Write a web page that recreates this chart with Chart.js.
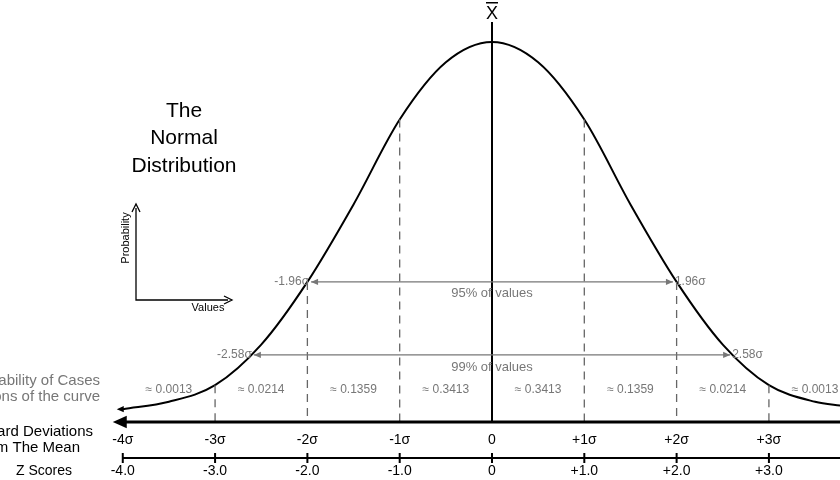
<!DOCTYPE html>
<html>
<head>
<meta charset="utf-8">
<script src="https://cdn.jsdelivr.net/npm/chart.js@4"></script>
<style>body{margin:0;background:#fff}</style>
</head>
<body>
<canvas id="c" width="840" height="480"></canvas>
<script>
// curve (height relative to peak)
const curveZ = [-4, -3.5, -3, -2.5, -2, -1.5, -1, -0.5, 0, 0.5, 1, 1.5, 2, 2.5, 3, 3.5, 3.8];
const curveY = [0.005, 0.025, 0.07, 0.18, 0.35, 0.56, 0.79, 0.945, 1, 0.945, 0.79, 0.56, 0.35, 0.18, 0.07, 0.025, 0.014];
const dashZ = [-3, -2, -1, 1, 2, 3];
const dashTop = [0.07, 0.35, 0.79, 0.79, 0.35, 0.07];
const sigmaTicks = [-4, -3, -2, -1, 0, 1, 2, 3];
const sigmaLabels = ["-4σ", "-3σ", "-2σ", "-1σ", "0", "+1σ", "+2σ", "+3σ"];
const zLabels = ["-4.0", "-3.0", "-2.0", "-1.0", "0", "+1.0", "+2.0", "+3.0"];
const probCenters = [-3.5, -2.5, -1.5, -0.5, 0.5, 1.5, 2.5, 3.5];
const probLabels = ["≈ 0.0013", "≈ 0.0214", "≈ 0.1359", "≈ 0.3413", "≈ 0.3413", "≈ 0.1359", "≈ 0.0214", "≈ 0.0013"];
const ranges = [{z: 1.96, h: 0.35, label: "95% of values", name: "1.96σ"}, {z: 2.58, h: 0.152, label: "99% of values", name: "2.58σ"}];

function arrow(ctx, x, y, dir, size) {
  ctx.beginPath();
  ctx.moveTo(x, y);
  ctx.lineTo(x - dir * size, y - size * 0.45);
  ctx.lineTo(x - dir * size, y + size * 0.45);
  ctx.closePath();
  ctx.fill();
}

const overlay = {
  id: "overlay",
  afterDatasetsDraw(chart) {
    const ctx = chart.ctx;
    const xs = chart.scales.x, ys = chart.scales.y;
    const X = v => xs.getPixelForValue(v), Y = v => ys.getPixelForValue(v);
    const axisY = 422, zAxisY = 458;
    ctx.save();

    // dashed verticals
    ctx.strokeStyle = "#666"; ctx.lineWidth = 1.3; ctx.setLineDash([8, 6]);
    dashZ.forEach((z, i) => {
      ctx.beginPath(); ctx.moveTo(X(z), Y(dashTop[i])); ctx.lineTo(X(z), axisY); ctx.stroke();
    });
    ctx.setLineDash([]);

    // centre line and x-bar
    ctx.strokeStyle = "#000"; ctx.lineWidth = 2;
    ctx.beginPath(); ctx.moveTo(X(0), 22); ctx.lineTo(X(0), axisY); ctx.stroke();
    ctx.fillStyle = "#000"; ctx.textAlign = "center"; ctx.textBaseline = "middle";
    ctx.font = "18px 'Liberation Sans', Arial, sans-serif";
    ctx.fillText("X", X(0), 14);
    ctx.fillRect(X(0) - 6, 2, 12, 1.5);

    // range lines
    ranges.forEach(r => {
      const y = Y(r.h);
      ctx.strokeStyle = "#777"; ctx.fillStyle = "#777"; ctx.lineWidth = 1.2;
      ctx.beginPath(); ctx.moveTo(X(-r.z), y); ctx.lineTo(X(r.z), y); ctx.stroke();
      arrow(ctx, X(-r.z), y, -1, 7); arrow(ctx, X(r.z), y, 1, 7);
      ctx.font = "12px 'Liberation Sans', Arial, sans-serif";
      ctx.textAlign = "right"; ctx.fillText("-" + r.name, X(-r.z) - 2, y);
      ctx.textAlign = "left"; ctx.fillText(r.name, X(r.z) + 2, y);
      ctx.font = "13px 'Liberation Sans', Arial, sans-serif";
      ctx.textAlign = "center"; ctx.fillText(r.label, X(0), y + 12);
    });

    // probabilities
    ctx.fillStyle = "#777"; ctx.font = "12px 'Liberation Sans', Arial, sans-serif";
    probCenters.forEach((z, i) => ctx.fillText(probLabels[i], X(z), 390));

    // main sigma axis
    ctx.strokeStyle = "#000"; ctx.fillStyle = "#000"; ctx.lineWidth = 3;
    ctx.beginPath(); ctx.moveTo(X(-4) - 2, axisY); ctx.lineTo(840, axisY); ctx.stroke();
    arrow(ctx, X(-4) - 10, axisY, -1, 14);
    ctx.font = "14px 'Liberation Sans', Arial, sans-serif";
    sigmaTicks.forEach((z, i) => ctx.fillText(sigmaLabels[i], X(z), 440));

    // z axis
    ctx.lineWidth = 2;
    ctx.beginPath(); ctx.moveTo(X(-4), zAxisY); ctx.lineTo(840, zAxisY); ctx.stroke();
    sigmaTicks.forEach((z, i) => {
      ctx.beginPath(); ctx.moveTo(X(z), zAxisY - 5); ctx.lineTo(X(z), zAxisY + 5); ctx.stroke();
      ctx.fillText(zLabels[i], X(z), 471);
    });

    // curve tail arrow
    arrow(ctx, X(-4) - 6, Y(curveY[0]), -1, 7);

    // left texts
    ctx.textAlign = "right";
    ctx.font = "15px 'Liberation Sans', Arial, sans-serif";
    ctx.fillStyle = "#777";
    ctx.fillText("ability of Cases", 100, 381);
    ctx.fillText("ions of the curve", 100, 397);
    ctx.fillStyle = "#000";
    ctx.fillText("dard Deviations", 93, 432);
    ctx.fillText("om The Mean", 80, 448);
    ctx.textAlign = "center";
    ctx.font = "14px 'Liberation Sans', Arial, sans-serif";
    ctx.fillText("Z Scores", 44, 471);

    // title
    ctx.font = "21px 'Liberation Sans', Arial, sans-serif";
    ["The", "Normal", "Distribution"].forEach((t, i) => ctx.fillText(t, 184, 111 + i * 27.5));

    // mini axes
    ctx.lineWidth = 1.3;
    ctx.beginPath(); ctx.moveTo(136, 208); ctx.lineTo(136, 300); ctx.lineTo(228, 300); ctx.stroke();
    ctx.beginPath(); ctx.moveTo(132, 212); ctx.lineTo(136, 204); ctx.lineTo(140, 212); ctx.stroke();
    ctx.beginPath(); ctx.moveTo(224, 296); ctx.lineTo(232, 300); ctx.lineTo(224, 304); ctx.stroke();
    ctx.font = "11px 'Liberation Sans', Arial, sans-serif";
    ctx.fillText("Values", 208, 308);
    ctx.translate(126, 238); ctx.rotate(-Math.PI / 2);
    ctx.fillText("Probability", 0, 0);
    ctx.restore();
  }
};

new Chart(document.getElementById("c"), {
  type: "scatter",
  data: {
    datasets: [{
      data: curveZ.map((z, i) => ({x: z, y: curveY[i]})),
      showLine: true,
      borderColor: "#000",
      borderWidth: 2,
      pointRadius: 0,
      cubicInterpolationMode: "monotone"
    }]
  },
  options: {
    responsive: false,
    animation: false,
    layout: {padding: 0},
    plugins: {legend: {display: false}, tooltip: {enabled: false}},
    scales: {
      x: {type: "linear", min: -5.33, max: 3.77, display: false},
      y: {type: "linear", min: -0.187, max: 1.114, display: false}
    }
  },
  plugins: [overlay]
});
</script>
</body>
</html>
